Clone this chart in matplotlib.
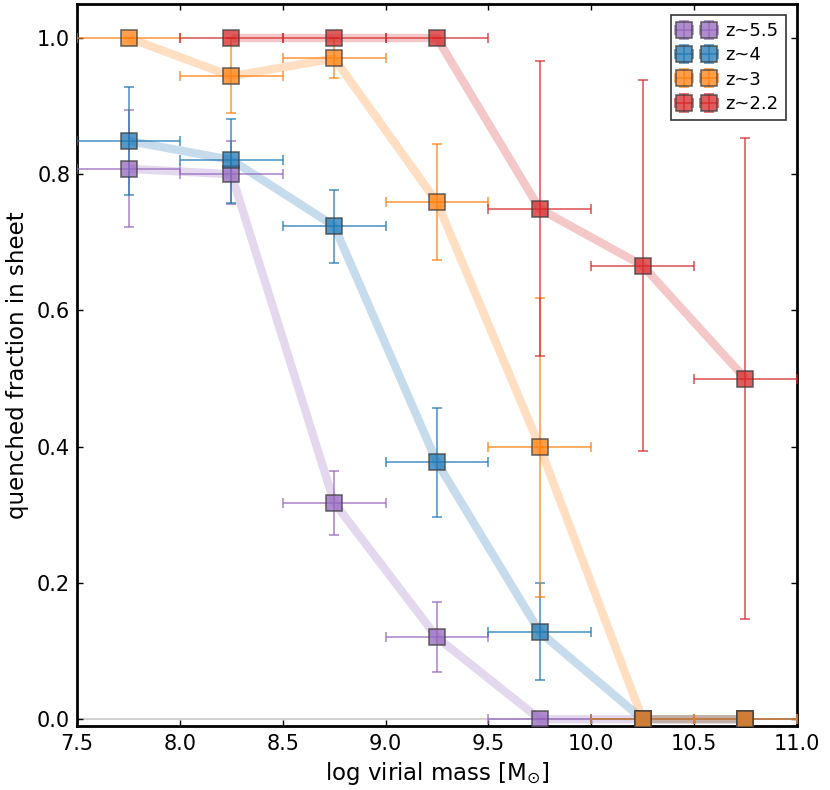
import numpy as np
import matplotlib
matplotlib.use("Agg")
import matplotlib.pyplot as plt
from matplotlib.ticker import FormatStrFormatter

# bin centres in log virial mass, half-width 0.25
mass_bins = [7.75, 8.25, 8.75, 9.25, 9.75, 10.25, 10.75]
bin_halfwidth = 0.25

# z~5.5
frac_z55 = [0.808, 0.800, 0.318, 0.120, 0.0, 0.0, 0.0]
lo_z55 = [0.085, 0.044, 0.047, 0.051, 0.0, 0.0, 0.0]
hi_z55 = [0.086, 0.049, 0.047, 0.052, 0.0, 0.0, 0.0]

# z~4
frac_z4 = [0.849, 0.821, 0.724, 0.377, 0.128, 0.0, 0.0]
lo_z4 = [0.080, 0.063, 0.054, 0.080, 0.070, 0.0, 0.0]
hi_z4 = [0.079, 0.060, 0.053, 0.080, 0.072, 0.0, 0.0]

# z~3
frac_z3 = [1.0, 0.944, 0.970, 0.759, 0.400, 0.0, 0.0]
lo_z3 = [0.0, 0.054, 0.029, 0.085, 0.220, 0.0, 0.0]
hi_z3 = [0.0, 0.056, 0.030, 0.086, 0.219, 0.0, 0.0]

# z~2.2 (no galaxies in the lowest bin)
mass_bins_z22 = [8.25, 8.75, 9.25, 9.75, 10.25, 10.75]
frac_z22 = [1.0, 1.0, 1.0, 0.749, 0.666, 0.500]
lo_z22 = [0.0, 0.0, 0.0, 0.216, 0.272, 0.353]
hi_z22 = [0.0, 0.0, 0.0, 0.217, 0.272, 0.353]

labels = ["z~5.5", "z~4", "z~3", "z~2.2"]
colours = ["#9467bd", "#1f77b4", "#ff7f0e", "#d62728"]

plt.rcParams["font.family"] = "DejaVu Sans"
plt.rcParams["xtick.direction"] = "in"
plt.rcParams["ytick.direction"] = "in"
plt.rcParams["xtick.top"] = True
plt.rcParams["ytick.right"] = True
plt.rcParams["xtick.major.size"] = 4
plt.rcParams["ytick.major.size"] = 4
plt.rcParams["xtick.major.pad"] = 6
plt.rcParams["ytick.major.pad"] = 5

fig = plt.figure(figsize=(8.3, 7.9), dpi=100)
ax = fig.add_axes([0.093, 0.081, 0.867, 0.914])

ax.axhline(0, color="0.82", lw=1.5, zorder=0)

series = [
    (mass_bins, frac_z55, lo_z55, hi_z55),
    (mass_bins, frac_z4, lo_z4, hi_z4),
    (mass_bins, frac_z3, lo_z3, hi_z3),
    (mass_bins_z22, frac_z22, lo_z22, hi_z22),
]

for (xs, ys, lo, hi), lab, c in zip(series, labels, colours):
    # thick faded trend line
    ax.plot(xs, ys, color=c, lw=6, alpha=0.25, solid_capstyle="butt", zorder=1)
    ax.errorbar(xs, ys, xerr=bin_halfwidth, yerr=[lo, hi], fmt="s",
                color=c, ecolor=c, elinewidth=1.2, capsize=3.5, capthick=1.2,
                ms=11, mfc=c, mec="0.25", mew=1.2, alpha=0.75,
                label=lab, zorder=3)

ax.set_xlim(7.5, 11.0)
ax.set_ylim(-0.01, 1.05)
ax.set_xticks(np.arange(7.5, 11.01, 0.5))
ax.set_yticks(np.arange(0.0, 1.01, 0.2))
ax.xaxis.set_major_formatter(FormatStrFormatter("%.1f"))
ax.yaxis.set_major_formatter(FormatStrFormatter("%.1f"))
ax.tick_params(labelsize=15, width=1)
for s in ax.spines.values():
    s.set_linewidth(2)

ax.set_xlabel(r"log virial mass [M$_{\odot}$]", fontsize=16.5, labelpad=4)
ax.set_ylabel("quenched fraction in sheet", fontsize=16.5, labelpad=6)

leg = ax.legend(loc="upper right", numpoints=2, fontsize=13, fancybox=False,
                borderaxespad=0.6, handletextpad=0.6, labelspacing=0.35)
leg.get_frame().set_edgecolor("black")
leg.get_frame().set_linewidth(1.2)

fig.savefig("out.png", dpi=100)
